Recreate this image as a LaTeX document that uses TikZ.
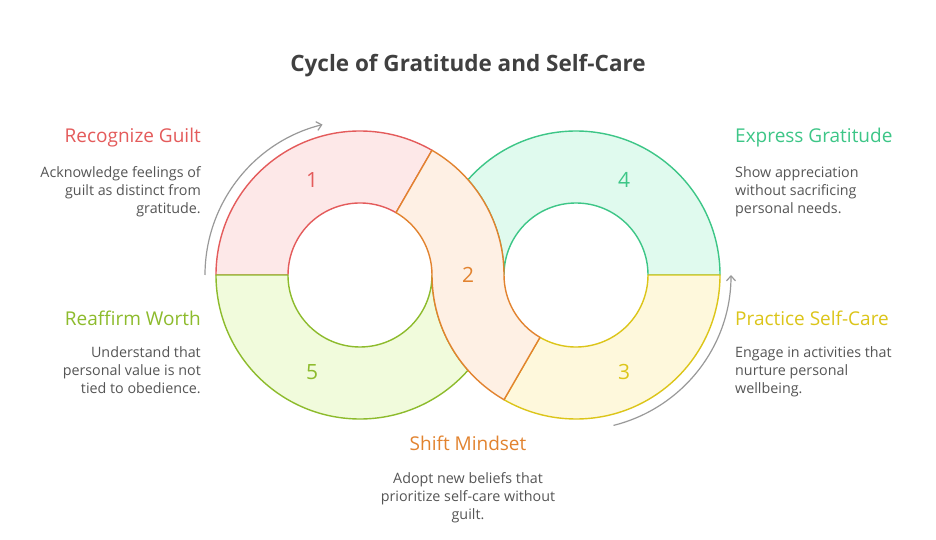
\documentclass[tikz,border=0pt]{standalone}
\usepackage{fontspec}
\setmainfont{Open Sans}
\usetikzlibrary{calc,arrows.meta}
\definecolor{cR}{HTML}{E45B5B}\definecolor{fR}{HTML}{FDE8E8}
\definecolor{cO}{HTML}{E2832F}\definecolor{fO}{HTML}{FEF0E4}
\definecolor{cG}{HTML}{3DC687}\definecolor{fG}{HTML}{E0FAEE}
\definecolor{cY}{HTML}{DCC519}\definecolor{fY}{HTML}{FEF8DC}
\definecolor{cL}{HTML}{8DBB2C}\definecolor{fL}{HTML}{F1FBDC}
\definecolor{tx}{HTML}{555555}
\tikzset{seg/.style={line width=1.4pt,line join=round},
 head/.style={font=\fontsize{19}{20}\selectfont},
 body/.style={font=\fontsize{14.3}{18}\selectfont,text=tx,inner sep=0pt},
 num/.style={font=\fontsize{21}{22}\selectfont},
 garrow/.style={draw=gray!80,line width=1.2pt,-{Straight Barb[length=5pt,width=9pt]}}}
\begin{document}
\begin{tikzpicture}[x=1pt,y=1pt]
\useasboundingbox[fill=white] (0,0) rectangle (936,540);
\coordinate (L) at (360,265);
\coordinate (R) at (576,265);
% segment 1
\draw[seg,draw=cR,fill=fR] ($(L)+(180:144)$) arc[start angle=180,end angle=60,radius=144] -- ($(L)+(60:72)$) arc[start angle=60,end angle=180,radius=72] -- cycle;
% segment 4
\draw[seg,draw=cG,fill=fG] ($(R)+(138.59:144)$) arc[start angle=138.59,end angle=0,radius=144] -- ($(R)+(0:72)$) arc[start angle=0,end angle=180,radius=72] arc[start angle=0,end angle=41.41,radius=144] -- cycle;
% segment 3
\draw[seg,draw=cY,fill=fY] ($(R)+(0:144)$) arc[start angle=0,end angle=-120,radius=144] -- ($(R)+(240:72)$) arc[start angle=-120,end angle=0,radius=72] -- cycle;
% segment 5
\draw[seg,draw=cL,fill=fL] ($(L)+(180:144)$) arc[start angle=180,end angle=318.59,radius=144] arc[start angle=221.41,end angle=180,radius=144] arc[start angle=0,end angle=-180,radius=72] -- cycle;
% segment 2
\draw[seg,draw=cO,fill=fO] ($(L)+(0:72)$) arc[start angle=0,end angle=60,radius=72] -- ($(L)+(60:144)$) arc[start angle=60,end angle=0,radius=144] arc[start angle=180,end angle=240,radius=72] -- ($(R)+(240:144)$) arc[start angle=240,end angle=180,radius=144] -- cycle;
% numbers
\node[num,text=cR] (n1) at (312,360) {1};
\node[num,text=cO] (n2) at (468,265) {2};
\node[num,text=cY] (n3) at (624,168) {3};
\node[num,text=cG] (n4) at (624,360) {4};
\node[num,text=cL] (n5) at (312,168) {5};
% arrows
\draw[garrow] ($(L)+(180:155)$) arc[start angle=180,end angle=104,radius=155];
\draw[garrow] ($(R)+(-76:155)$) arc[start angle=-76,end angle=0,radius=155];
% title
\node[font=\fontsize{22.5}{24}\selectfont\bfseries,text=black!75] (title) at (468,474) {Cycle of Gratitude and Self-Care};
% texts
\node[head,text=cR,anchor=east,inner sep=0pt] (h1) at (201,402) {Recognize Guilt};
\node[body,anchor=north east,align=right] (b1) at (201,374) {Acknowledge feelings of\\guilt as distinct from\\gratitude.};
\node[head,text=cL,anchor=east,inner sep=0pt] (h5) at (201,222) {Reaffirm Worth};
\node[body,anchor=north east,align=right] (b5) at (201,194) {Understand that\\personal value is not\\tied to obedience.};
\node[head,text=cG,anchor=west,inner sep=0pt] (h4) at (735,402) {Express Gratitude};
\node[body,anchor=north west,align=left] (b4) at (735,374) {Show appreciation\\without sacrificing\\personal needs.};
\node[head,text=cY,anchor=west,inner sep=0pt] (h3) at (735,222) {Practice Self-Care};
\node[body,anchor=north west,align=left] (b3) at (735,194) {Engage in activities that\\nurture personal\\wellbeing.};
\node[head,text=cO,inner sep=0pt] (h2) at (468,97) {Shift Mindset};
\node[body,anchor=north,align=center] (b2) at (468,68) {Adopt new beliefs that\\prioritize self-care without\\guilt.};
\end{tikzpicture}
\end{document}
